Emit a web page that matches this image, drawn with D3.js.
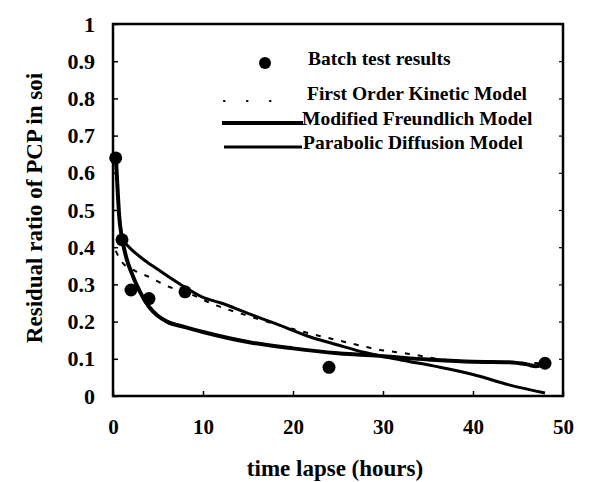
<!DOCTYPE html>
<html><head><meta charset="utf-8">
<script src="https://cdn.jsdelivr.net/npm/d3@7/dist/d3.min.js"></script>
<style>
html,body{margin:0;padding:0;background:#fff;}
svg{display:block;}
text{font-family:"Liberation Serif","DejaVu Serif",serif;fill:#000;}
</style></head>
<body>
<svg id="c" width="590" height="482"></svg>
<script>
// ---- data ----
const xTicks = [0, 10, 20, 30, 40, 50];
const yTicks = [0, 0.1, 0.2, 0.3, 0.4, 0.5, 0.6, 0.7, 0.8, 0.9, 1];
const yTickLabels = ["0", "0.1", "0.2", "0.3", "0.4", "0.5", "0.6", "0.7", "0.8", "0.9", "1"];

const obsTime = [0.3, 1, 2, 4, 8, 24, 48];
const obsValue = [0.64, 0.42, 0.285, 0.262, 0.28, 0.077, 0.088];

const firstOrderTime = [0.3, 1, 2.4, 4, 5.6, 9, 11, 14.4, 20, 26.7, 29, 33, 36, 40, 44, 48];
const firstOrderValue = [0.39, 0.36, 0.337, 0.32, 0.30, 0.27, 0.248, 0.22, 0.18, 0.14, 0.127, 0.113, 0.10, 0.092, 0.09, 0.088];

const freundTime = [0.3, 0.5, 0.7, 1, 1.5, 2, 3, 4, 5, 6, 8, 10, 15, 20, 25, 30, 35, 40, 44, 46, 47, 48];
const freundValue = [0.65, 0.56, 0.48, 0.425, 0.37, 0.335, 0.28, 0.24, 0.215, 0.2, 0.185, 0.172, 0.145, 0.128, 0.115, 0.107, 0.098, 0.092, 0.091, 0.085, 0.08, 0.088];

const paraTime = [1, 2, 3.5, 5, 7.5, 10, 12, 15, 18, 22, 25, 28, 32, 36, 40, 44, 48];
const paraValue = [0.42, 0.395, 0.365, 0.34, 0.3, 0.265, 0.25, 0.222, 0.195, 0.158, 0.137, 0.117, 0.097, 0.079, 0.058, 0.03, 0.008];

const legendLabels = ["Batch test results", "First Order Kinetic Model", "Modified Freundlich Model", "Parabolic Diffusion Model"];

// ---- chart ----
const svg = d3.select("#c");
const x = d3.scaleLinear().domain([0, 50]).range([113, 563]);
const y = d3.scaleLinear().domain([0, 1]).range([396, 24]);

// frame
svg.append("rect").attr("x", x(0)).attr("y", y(1)).attr("width", x(50) - x(0)).attr("height", y(0) - y(1))
  .attr("fill", "none").attr("stroke", "#000").attr("stroke-width", 2.5);

const yAxis = svg.append("g").attr("transform", `translate(${x(0)},0)`)
  .call(d3.axisLeft(y).tickValues(yTicks).tickSize(-5).tickPadding(18)
    .tickFormat((d, i) => yTickLabels[i]));
yAxis.select(".domain").remove();
yAxis.selectAll("text").attr("font-size", 22).attr("font-weight", "bold")
  .attr("font-family", "Liberation Serif");
yAxis.selectAll("line").attr("stroke-width", 1.5);

const yAxisR = svg.append("g").attr("transform", `translate(${x(50)},0)`)
  .call(d3.axisRight(y).tickValues(yTicks).tickSize(-4).tickFormat(""));
yAxisR.select(".domain").remove();
yAxisR.selectAll("line").attr("stroke-width", 1.2);

const xAxis = svg.append("g").attr("transform", `translate(0,${y(0)})`)
  .call(d3.axisBottom(x).tickValues(xTicks).tickSize(-5).tickPadding(23).tickFormat(d3.format("d")));
xAxis.select(".domain").remove();
xAxis.selectAll("text").attr("font-size", 21).attr("font-weight", "bold")
  .attr("font-family", "Liberation Serif");
xAxis.selectAll("line").attr("stroke-width", 1.5);

// axis titles
svg.append("text").attr("transform", `translate(42,208) rotate(-90)`)
  .attr("text-anchor", "middle").attr("font-size", 23).attr("font-weight", "bold")
  .text("Residual ratio of PCP in soi");
svg.append("text").attr("x", 335).attr("y", 476)
  .attr("text-anchor", "middle").attr("font-size", 23).attr("font-weight", "bold")
  .text("time lapse (hours)");

// lines
const line = d3.line().x(d => x(d[0])).y(d => y(d[1])).curve(d3.curveMonotoneX);
const zip = (a, b) => a.map((v, i) => [v, b[i]]);

svg.append("path").datum(zip(firstOrderTime, firstOrderValue)).attr("d", line)
  .attr("fill", "none").attr("stroke", "#000").attr("stroke-width", 2).attr("stroke-dasharray", "5,8");
svg.append("path").datum(zip(paraTime, paraValue)).attr("d", line)
  .attr("fill", "none").attr("stroke", "#000").attr("stroke-width", 3);
svg.append("path").datum(zip(freundTime, freundValue)).attr("d", line)
  .attr("fill", "none").attr("stroke", "#000").attr("stroke-width", 4);

// markers
svg.append("g").selectAll("circle").data(zip(obsTime, obsValue)).join("circle")
  .attr("cx", d => x(d[0])).attr("cy", d => y(d[1])).attr("r", 6.5).attr("fill", "#000");

// legend
const lg = svg.append("g");
lg.append("circle").attr("cx", 265).attr("cy", 63).attr("r", 6).attr("fill", "#000");
lg.append("line").attr("x1", 224).attr("x2", 271).attr("y1", 101).attr("y2", 101)
  .attr("stroke", "#000").attr("stroke-width", 2.2).attr("stroke-linecap", "round").attr("stroke-dasharray", "0.5,22.5");
lg.append("line").attr("x1", 222).attr("x2", 303).attr("y1", 123).attr("y2", 123)
  .attr("stroke", "#000").attr("stroke-width", 4);
lg.append("line").attr("x1", 224).attr("x2", 302).attr("y1", 147).attr("y2", 147)
  .attr("stroke", "#000").attr("stroke-width", 3);
const lx = [308, 307, 302, 303];
const lyb = [65, 100, 125, 149];
lg.selectAll("text").data(legendLabels).join("text")
  .attr("x", (d, i) => lx[i]).attr("y", (d, i) => lyb[i])
  .attr("font-size", 19.5).attr("font-weight", "bold").text(d => d);
</script>
</body></html>
